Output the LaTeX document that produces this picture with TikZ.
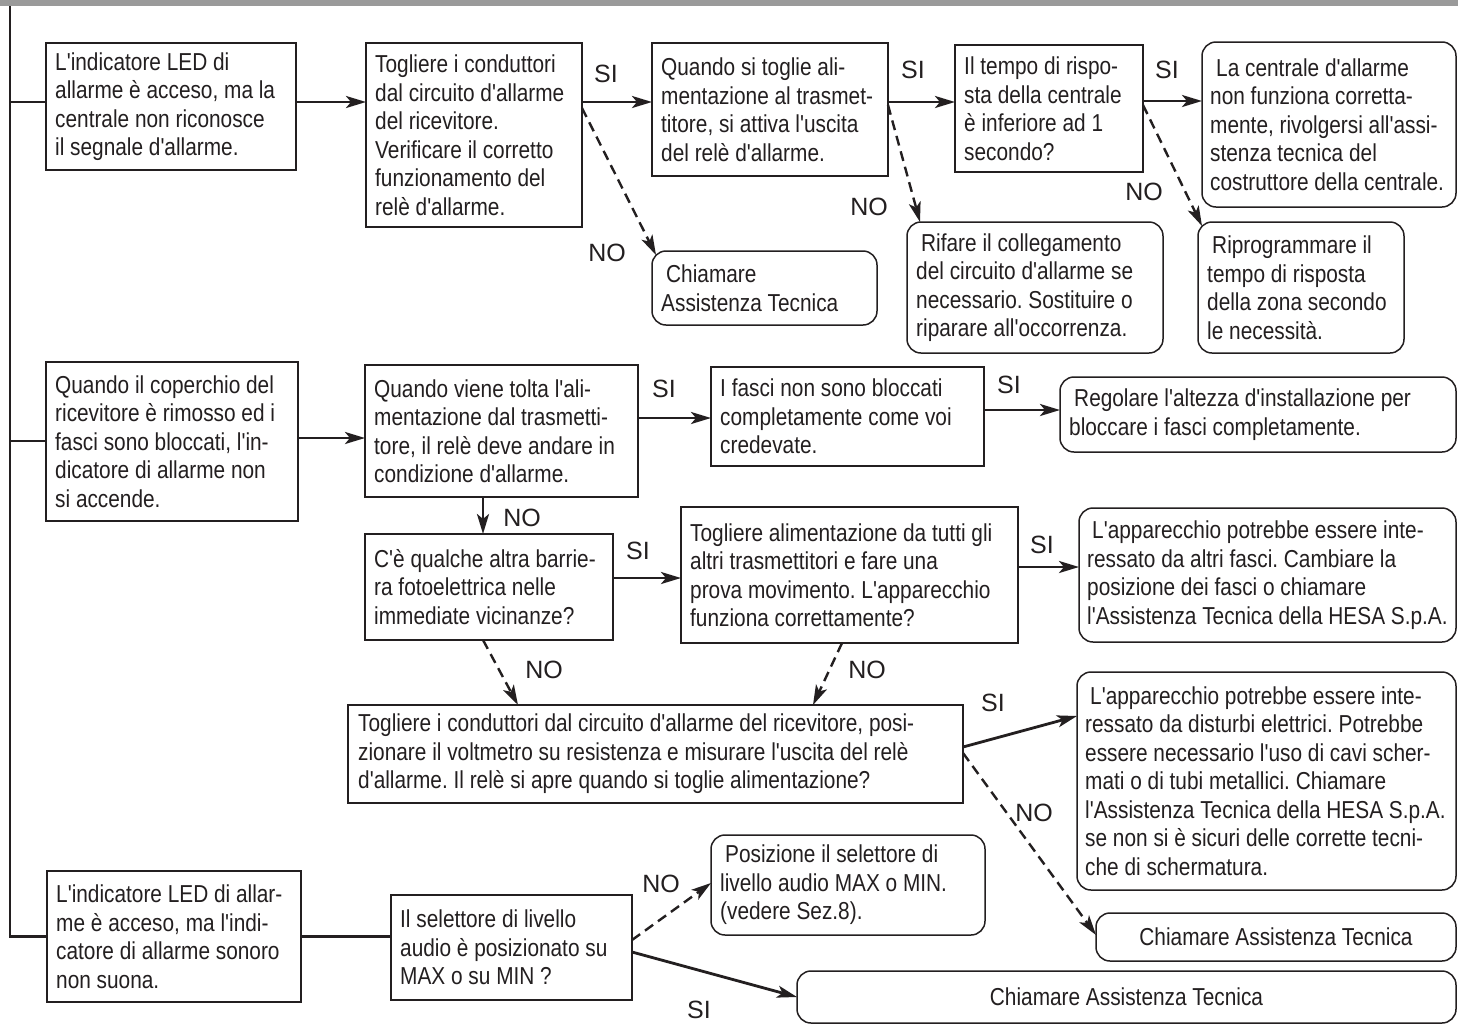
\documentclass[tikz,border=0pt]{standalone}
\usepackage{fontspec}
\usetikzlibrary{arrows.meta}
\newfontfamily\bodyfont[FakeStretch=0.85]{Liberation Sans}
\newfontfamily\lblfont{Liberation Sans}
\definecolor{ink}{HTML}{231F20}
\definecolor{barcol}{HTML}{9A9A9A}
\begin{document}
\begin{tikzpicture}[x=1pt,y=-1pt,
  bx/.style={draw=ink, line width=1.5pt, anchor=north west, inner sep=0pt, outer sep=0pt},
  rbx/.style={bx, rounded corners=14pt},
  tx/.style={anchor=west, inner sep=0pt, align=left, font={\bodyfont\fontsize{24.5}{28.5}\selectfont\frenchspacing}, text=ink},
  lbl/.style={font={\lblfont\fontsize{25}{25}\selectfont}, text=ink, inner sep=0pt},
  conn/.style={draw=ink, line width=2.8pt},
  arr/.style={conn, -{Stealth[length=20pt,width=12pt,inset=5pt]}},
  darr/.style={draw=ink, line width=2.4pt, dash pattern=on 10pt off 6pt, -{Stealth[length=20pt,width=12pt,inset=5pt]}},
]
\useasboundingbox (0,0) rectangle (1458,1026);
\fill[white] (0,0) rectangle (1458,1026);
\fill[barcol] (0,0) rectangle (1458,6);

% ---------- row 1 ----------
\node[bx, minimum width=250pt, minimum height=127pt] (A1) at (46,43) {};
\node[tx] (A1t) at ([xshift=9pt]A1.west) {L'indicatore LED di\\allarme è acceso, ma la\\centrale non riconosce\\il segnale d'allarme.};
\node[bx, minimum width=216pt, minimum height=184pt] (B1) at (366,43) {};
\node[tx] (B1t) at ([xshift=9pt]B1.west) {Togliere i conduttori\\dal circuito d'allarme\\del ricevitore.\\Verificare il corretto\\funzionamento del\\relè d'allarme.};
\node[bx, minimum width=236pt, minimum height=133pt] (C1) at (652,43) {};
\node[tx] (C1t) at ([xshift=9pt]C1.west) {Quando si toglie ali-\\mentazione al trasmet-\\titore, si attiva l'uscita\\del relè d'allarme.};
\node[rbx, minimum width=225pt, minimum height=74pt] (D1) at (652,251) {};
\node[tx] (D1t) at ([xshift=9pt]D1.west) {\hspace*{5pt}Chiamare\\Assistenza Tecnica};
\node[rbx, minimum width=256pt, minimum height=131pt] (E1) at (907,222) {};
\node[tx] (E1t) at ([xshift=9pt]E1.west) {\hspace*{5pt}Rifare il collegamento\\del circuito d'allarme se\\necessario. Sostituire o\\riparare all'occorrenza.};
\node[bx, minimum width=188pt, minimum height=127pt] (F1) at (955,45) {};
\node[tx] (F1t) at ([xshift=9pt]F1.west) {Il tempo di rispo-\\sta della centrale\\è inferiore ad 1\\secondo?};
\node[rbx, minimum width=254pt, minimum height=165pt] (G1) at (1202,42) {};
\node[tx] (G1t) at ([xshift=8pt]G1.west) {\hspace*{6pt}La centrale d'allarme\\non funziona corretta-\\mente, rivolgersi all'assi-\\stenza tecnica del\\costruttore della centrale.};
\node[rbx, minimum width=206pt, minimum height=131pt] (H1) at (1198,222) {};
\node[tx] (H1t) at ([xshift=9pt]H1.west) {\hspace*{5pt}Riprogrammare il\\tempo di risposta\\della zona secondo\\le necessità.};

% ---------- row 2 ----------
\node[bx, minimum width=252pt, minimum height=159pt] (A2) at (46,362) {};
\node[tx] (A2t) at ([xshift=9pt]A2.west) {Quando il coperchio del\\ricevitore è rimosso ed i\\fasci sono bloccati, l'in-\\dicatore di allarme non\\si accende.};
\node[bx, minimum width=273pt, minimum height=132pt] (B2) at (365,365) {};
\node[tx] (B2t) at ([xshift=9pt]B2.west) {Quando viene tolta l'ali-\\mentazione dal trasmetti-\\tore, il relè deve andare in\\condizione d'allarme.};
\node[bx, minimum width=273pt, minimum height=99pt] (C2) at (711,367) {};
\node[tx] (C2t) at ([xshift=9pt]C2.west) {I fasci non sono bloccati\\completamente come voi\\credevate.};
\node[rbx, minimum width=396pt, minimum height=75pt] (D2) at (1060,377) {};
\node[tx] (D2t) at ([xshift=9pt]D2.west) {\hspace*{5pt}Regolare l'altezza d'installazione per\\bloccare i fasci completamente.};
\node[bx, minimum width=248pt, minimum height=106pt] (B3) at (365,534) {};
\node[tx] (B3t) at ([xshift=9pt]B3.west) {C'è qualche altra barrie-\\ra fotoelettrica nelle\\immediate vicinanze?};
\node[bx, minimum width=337pt, minimum height=136pt] (C3) at (681,507) {};
\node[tx] (C3t) at ([xshift=9pt]C3.west) {Togliere alimentazione da tutti gli\\altri trasmettitori e fare una\\prova movimento. L'apparecchio\\funziona correttamente?};
\node[rbx, minimum width=377pt, minimum height=134pt] (D3) at (1079,508) {};
\node[tx] (D3t) at ([xshift=8pt]D3.west) {\hspace*{5pt}L'apparecchio potrebbe essere inte-\\ressato da altri fasci. Cambiare la\\posizione dei fasci o chiamare\\l'Assistenza Tecnica della HESA S.p.A.};
\node[bx, minimum width=615pt, minimum height=98pt] (B4) at (348,705) {};
\node[tx] (B4t) at ([xshift=10pt]B4.west) {Togliere i conduttori dal circuito d'allarme del ricevitore, posi-\\zionare il voltmetro su resistenza e misurare l'uscita del relè\\d'allarme. Il relè si apre quando si toglie alimentazione?};
\node[rbx, minimum width=379pt, minimum height=218pt] (D4) at (1077,672) {};
\node[tx] (D4t) at ([xshift=8pt]D4.west) {\hspace*{5pt}L'apparecchio potrebbe essere inte-\\ressato da disturbi elettrici. Potrebbe\\essere necessario l'uso di cavi scher-\\mati o di tubi metallici. Chiamare\\l'Assistenza Tecnica della HESA S.p.A.\\se non si è sicuri delle corrette tecni-\\che di schermatura.};
\node[rbx, minimum width=360pt, minimum height=48pt] (E4) at (1096,913) {};
\node[tx, anchor=center] (E4t) at (E4.center) {Chiamare Assistenza Tecnica};

% ---------- row 3 ----------
\node[bx, minimum width=254pt, minimum height=131pt] (A4) at (47,871) {};
\node[tx] (A4t) at ([xshift=9pt]A4.west) {L'indicatore LED di allar-\\me è acceso, ma l'indi-\\catore di allarme sonoro\\non suona.};
\node[bx, minimum width=241pt, minimum height=105pt] (B5) at (391,895) {};
\node[tx] (B5t) at ([xshift=9pt]B5.west) {Il selettore di livello\\audio è posizionato su\\MAX o su MIN ?};
\node[rbx, minimum width=274pt, minimum height=100pt] (C5) at (711,835) {};
\node[tx] (C5t) at ([xshift=9pt]C5.west) {\hspace*{5pt}Posizione il selettore di\\livello audio MAX o MIN.\\(vedere Sez.8).};
\node[rbx, minimum width=659pt, minimum height=52pt] (D5) at (797,971) {};
\node[tx, anchor=center] (D5t) at (D5.center) {Chiamare Assistenza Tecnica};

% ---------- trunk ----------
\coordinate (T0) at (10,6);
\draw[conn] (T0) |- (A4.west);
\draw[conn] (T0 |- 0,102) -- (A1.west |- 0,102);
\draw[conn] (T0 |- 0,441) -- (A2.west |- 0,441);

% ---------- connectors row 1 ----------
\draw[arr] (A1.east |- 0,102) -- (B1.west |- 0,102);
\draw[arr] (B1.east |- 0,102) -- (C1.west |- 0,102);
\draw[darr] (B1.east |- 0,108) -- ([xshift=4pt,yshift=-4pt]D1.north west);
\draw[arr] (C1.east |- 0,102) -- (F1.west |- 0,102);
\draw[darr] (C1.east |- 0,105) -- ([xshift=13pt]E1.north west);
\draw[arr] (F1.east |- 0,101) -- (G1.west |- 0,101);
\draw[darr] (F1.east |- 0,105) -- ([xshift=4pt,yshift=-4pt]H1.north west);

% ---------- connectors row 2 ----------
\draw[arr] (A2.east |- 0,438) -- (B2.west |- 0,438);
\draw[arr] (B2.east |- 0,418) -- (C2.west |- 0,418);
\draw[arr] (C2.east |- 0,410) -- (D2.west |- 0,410);
\draw[arr] (B2.south -| 483,0) -- (B3.north -| 483,0);
\draw[arr] (B3.east |- 0,578) -- (C3.west |- 0,578);
\draw[arr] (C3.east |- 0,567) -- (D3.west |- 0,567);
\draw[darr] (B3.south -| 483,0) -- (B4.north -| 518,0);
\draw[darr] (C3.south -| 842,0) -- (B4.north -| 813,0);
\draw[arr] (B4.east |- 0,747) -- (D4.west |- 0,716);
\draw[darr] (B4.east |- 0,753) -- (E4.west |- 0,935);

% ---------- connectors row 3 ----------
\draw[conn] (A4.east) -- (B5.west |- A4.east);
\draw[darr] (B5.east |- 0,940) -- (C5.west |- 0,883);
\draw[arr] (B5.east |- 0,952) -- (D5.west |- 0,997);

% ---------- labels ----------
\node[lbl] (l1) at (606,74) {SI};
\node[lbl] (l2) at (607,253) {NO};
\node[lbl] (l3) at (913,70) {SI};
\node[lbl] (l4) at (869,207) {NO};
\node[lbl] (l5) at (1167,70) {SI};
\node[lbl] (l6) at (1144,192) {NO};
\node[lbl] (l7) at (664,389) {SI};
\node[lbl] (l8) at (1009,385) {SI};
\node[lbl] (l9) at (522,518) {NO};
\node[lbl] (l10) at (638,551) {SI};
\node[lbl] (l11) at (1042,545) {SI};
\node[lbl] (l12) at (544,670) {NO};
\node[lbl] (l13) at (867,670) {NO};
\node[lbl] (l14) at (993,703) {SI};
\node[lbl] (l15) at (1034,813) {NO};
\node[lbl] (l16) at (661,884) {NO};
\node[lbl] (l17) at (699,1010) {SI};
\end{tikzpicture}
\end{document}
